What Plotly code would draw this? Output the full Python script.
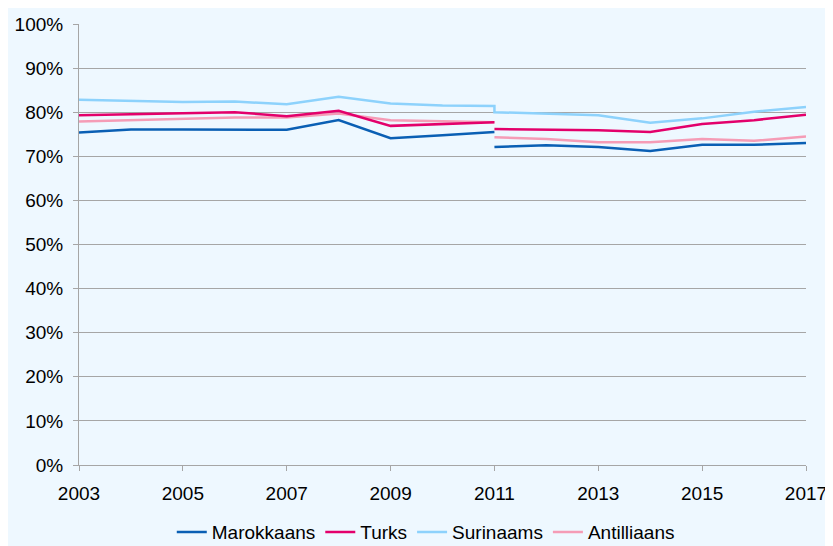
import plotly.graph_objects as go

years_a = [2003, 2004, 2005, 2006, 2007, 2008, 2009, 2010, 2011]
years_b = [2011, 2012, 2013, 2014, 2015, 2016, 2017]

marokkaans_a = [75.4, 76.1, 76.1, 76.1, 76.0, 78.2, 74.1, 74.8, 75.5]
marokkaans_b = [72.1, 72.5, 72.1, 71.2, 72.6, 72.6, 73.0]
turks_a = [79.3, 79.5, 79.7, 80.0, 79.1, 80.3, 76.9, 77.3, 77.7]
turks_b = [76.2, 76.0, 75.9, 75.5, 77.3, 78.2, 79.4]
surinaams_a = [82.8, 82.5, 82.3, 82.4, 81.8, 83.5, 82.0, 81.5, 81.4]
surinaams_b = [80.0, 79.7, 79.3, 77.6, 78.6, 80.1, 81.2]
antilliaans_a = [77.9, 78.2, 78.5, 78.8, 78.8, 79.7, 78.2, 78.0, 77.7]
antilliaans_b = [74.3, 73.9, 73.2, 73.2, 73.9, 73.5, 74.5]

x_ticks = [2003, 2005, 2007, 2009, 2011, 2013, 2015, 2017]
y_ticks = [0, 10, 20, 30, 40, 50, 60, 70, 80, 90, 100]
y_labels = [f"{v}%" for v in y_ticks]

BG = "#EEF8FF"
GRID = "#A6A6A6"
FONT = "Liberation Sans, Arial, sans-serif"

fig = go.Figure()

def gapped(a_x, a_y, b_x, b_y):
    return a_x + [None] + b_x, a_y + [None] + b_y

series = [
    ("Marokkaans", marokkaans_a, marokkaans_b, "#0A5FB4", True),
    ("Turks", turks_a, turks_b, "#E3006B", True),
    ("Surinaams", surinaams_a, surinaams_b, "#8DD2FC", False),
    ("Antilliaans", antilliaans_a, antilliaans_b, "#F59CB6", True),
]

draw_order = ["Surinaams", "Antilliaans", "Turks", "Marokkaans"]
legend_rank = {s[0]: i for i, s in enumerate(series)}
lookup = {s[0]: s for s in series}
for name in draw_order:
    _, a, b, color, gap = lookup[name]
    if gap:
        xs, ys = gapped(years_a, a, years_b, b)
    else:
        xs, ys = years_a + years_b, a + b
    fig.add_trace(go.Scatter(
        x=xs, y=ys, name=name, mode="lines",
        line=dict(color=color, width=2.5),
        connectgaps=False,
        legendrank=legend_rank[name] + 1,
    ))

fig.update_layout(
    width=825, height=538,
    margin=dict(l=71, r=27, t=16, b=81, autoexpand=False),
    paper_bgcolor=BG,
    plot_bgcolor=BG,
    font=dict(family=FONT, size=19, color="#000000"),
    showlegend=True,
    legend=dict(
        orientation="h", x=0.477, xanchor="center", y=-0.152, yanchor="middle",
        bgcolor="rgba(0,0,0,0)", font=dict(size=19), traceorder="normal",
        itemwidth=30,
    ),
)

fig.update_xaxes(
    range=[2003, 2017], tickvals=x_ticks, ticktext=[str(v) for v in x_ticks],
    showgrid=False, zeroline=False, showline=True, linecolor=GRID, linewidth=1,
    ticks="outside", ticklen=5, tickcolor=GRID, ticklabelstandoff=6,
    automargin=False,
)
fig.update_yaxes(
    range=[0, 100], tickvals=y_ticks, ticktext=y_labels,
    showgrid=True, gridcolor=GRID, gridwidth=1, zeroline=False,
    showline=True, linecolor=GRID, linewidth=1,
    ticks="outside", ticklen=5, tickcolor=GRID, ticklabelstandoff=6,
    automargin=False,
)

fig.write_html("out.html")
